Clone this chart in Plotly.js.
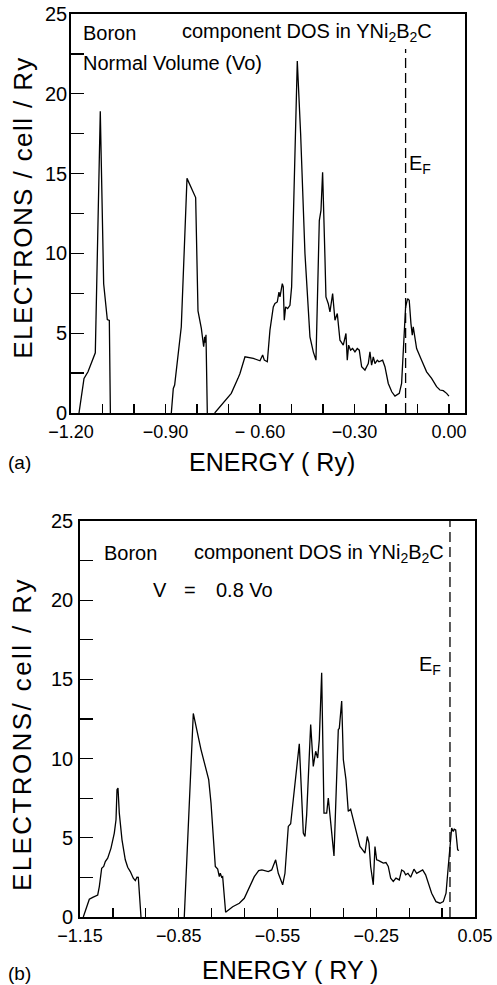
<!DOCTYPE html>
<html>
<head>
<meta charset="utf-8">
<script src="https://cdn.plot.ly/plotly-3.0.1.min.js"></script>
<style>
html,body{margin:0;padding:0;background:#fff;}
#chart{width:497px;height:985px;}
#chart g.annotation[data-index="4"] text{letter-spacing:1.4px;}
#chart g.annotation[data-index="13"] text{letter-spacing:2.4px;}
</style>
</head>
<body>
<div id="chart"></div>
<script>
// ---------- Panel (a): Normal volume ----------
const energy_a = [
  -1.1746,-1.1587,-1.146,-1.1228,-1.107,-1.0963,-1.0847,-1.0783,-1.075,null,
  -0.8815,-0.8752,-0.8709,-0.8498,-0.8317,-0.8233,-0.8074,-0.8042,-0.7968,-0.7862,-0.7788,-0.7756,-0.7735,-0.7714,-0.7672,null,
  -0.7438,-0.7228,-0.6911,-0.6698,-0.6635,-0.6476,-0.6212,-0.6000,-0.5915,-0.5862,-0.5767,-0.5683,-0.5577,-0.5524,-0.5450,
  -0.5397,-0.5365,-0.5291,-0.5260,-0.5228,-0.5185,-0.5122,-0.5048,-0.4995,-0.4815,-0.4709,-0.4571,-0.4413,-0.4307,-0.4222,
  -0.4116,-0.4063,-0.4011,-0.3937,-0.3905,-0.3831,-0.3778,-0.3693,-0.3619,-0.3545,-0.3460,-0.3355,-0.3270,-0.3228,-0.3185,
  -0.3122,-0.3058,-0.2984,-0.2911,-0.2847,-0.2772,-0.2667,-0.2561,-0.2508,-0.2455,-0.2402,-0.2349,-0.2275,-0.2222,-0.2106,
  -0.2032,-0.1926,-0.1815,-0.1714,-0.1577,-0.1503,-0.1429,-0.1376,-0.1312,-0.1261,-0.1206,-0.1164,-0.1133,-0.1079,-0.1026,
  -0.0868,-0.0709,-0.0550,-0.0392,-0.0286,-0.0180,-0.0074,0.0
];
const dos_a = [
  0,2.17,2.58,3.77,18.9,8.1,5.85,5.8,0,null,
  0,1.54,1.75,5.4,14.7,14.35,13.6,13.5,6.4,5.3,4.15,4.77,4.4,4.9,0,null,
  0,0.5,1.23,2.17,2.48,3.52,3.42,3.27,3.63,3.31,3.21,5.19,6.65,6.86,6.96,
  7.58,7.27,8.1,7.9,5.81,6.65,6.54,6.75,7.9,22.06,17.5,9.98,4.77,3.83,3.31,
  12.06,12.69,15.08,9.77,7.27,6.85,6.33,7.48,5.81,6.23,4.56,4.25,4.98,3.31,4.25,
  3.94,4.04,3.83,4.04,3.94,2.9,2.69,3.1,3.83,3.0,3.52,3.1,3.31,3.21,3.31,
  2.9,1.85,1.33,1.06,1.23,1.85,4.56,6.65,7.17,7.06,5.6,4.88,5.4,4.77,4.04,
  3.31,2.58,2.17,1.65,1.44,1.4,1.23,1.06
];
const fermi_a = -0.1376;
const fermiTop_a = 22.8;

// ---------- Panel (b): V = 0.8 Vo ----------
const energy_b = [
  -1.1400,-1.1217,-1.1114,-1.0962,-1.0913,-1.0841,-1.0780,-1.0731,-1.0659,-1.0558,-1.0458,-1.0406,-1.0376,-1.0346,-1.0306,
  -1.0224,-1.0124,-1.0051,-0.9972,-0.9881,-0.9820,-0.9769,-0.9729,-0.9647,null,
  -0.8332,-0.8058,-0.7824,-0.7590,-0.7520,-0.7389,-0.7317,-0.7268,-0.7238,-0.7196,-0.7166,-0.7076,-0.6862,-0.6660,-0.6509,
  -0.6357,-0.6205,-0.6072,-0.5972,-0.5780,-0.5677,-0.5556,-0.5476,-0.5343,-0.5273,-0.5172,-0.5100,-0.4838,-0.4716,-0.4665,
  -0.4614,-0.4492,-0.4413,-0.4340,-0.4279,-0.4230,-0.4158,-0.4088,-0.4006,-0.3957,-0.3885,-0.3784,-0.3653,-0.3623,-0.3550,
  -0.3500,-0.3420,-0.3350,-0.3278,-0.3198,-0.3096,-0.2995,-0.2914,-0.2843,-0.2773,-0.2721,-0.2670,-0.2590,-0.2539,-0.2488,
  -0.2437,-0.2366,-0.2286,-0.2205,-0.2135,-0.2062,-0.1983,-0.1901,-0.1800,-0.1728,-0.1658,-0.1607,-0.1536,-0.1455,-0.1354,
  -0.1272,-0.1193,-0.1090,-0.1000,-0.0919,-0.0817,-0.0686,-0.0564,-0.0463,-0.0380,-0.0312,-0.0209,-0.0160,-0.0130,-0.0087,
  -0.0027,0.0013
];
const dos_b = [
  0,1.12,1.24,1.39,1.92,3.08,3.19,3.5,3.71,4.35,5.3,6.14,8.04,8.14,6.56,
  4.87,3.61,3.14,2.87,2.45,2.3,2.51,2.5,0,null,
  0,12.85,10.57,8.67,7.2,3.19,3.02,2.55,2.76,2.51,2.55,0.3,0.65,0.87,1.18,
  1.82,2.55,2.93,2.97,2.87,2.97,3.61,2.76,2.03,2.76,5.72,5.89,10.93,5.3,5.08,
  6.46,12.15,9.51,10.46,10.04,11.2,15.42,6.56,6.56,7.51,6.14,3.86,11.84,11.9,13.63,
  9.94,8.67,6.67,6.81,6.14,5.3,4.45,4.24,4.03,5.08,4.66,3.19,2.03,4.45,3.61,
  3.57,3.5,3.4,3.44,3.19,2.45,2.24,2.45,2.34,2.97,2.87,2.66,2.76,2.51,3.02,
  2.76,2.87,2.97,2.66,2.13,1.5,0.97,0.87,0.97,1.5,3.19,5.61,5.4,5.55,5.5,
  4.24,4.2
];
const fermi_b = -0.026;
const fermiTop_b = 25;

// ---------- Ticks ----------
const xTickVals_a = [-1.2,-1.1,-1.0,-0.9,-0.8,-0.7,-0.6,-0.5,-0.4,-0.3,-0.2,-0.1,0.0];
const xTickText_a = ['\u22121.20','','','\u22120.90','','','\u2212 0.60','','','\u22120.30','','','0.00'];
const xTickVals_b = [-1.15,-1.05,-0.95,-0.85,-0.75,-0.65,-0.55,-0.45,-0.35,-0.25,-0.15,-0.05,0.05];
const xTickText_b = ['\u22121.15','','','\u22120.85','','','\u22120.55','','','\u22120.25','','','0.05'];
const yTickVals = [0,2.5,5,7.5,10,12.5,15,17.5,20,22.5,25];
const yTickText = ['0','','5','','10','','15','','20','','25'];

const W = 497, H = 985;
const px = v => v / W;
const py = v => 1 - v / H;
const FONT = 'Liberation Sans, Arial, sans-serif';

const lineStyle = {color:'#000', width:1.3};
const dashStyle = {color:'#000', width:1.3, dash:'10px,5px'};

const traces = [
  {x: energy_a, y: dos_a, xaxis:'x', yaxis:'y', mode:'lines', line: lineStyle, connectgaps:false, hoverinfo:'skip'},
  {x: [fermi_a, fermi_a], y: [0, fermiTop_a], xaxis:'x', yaxis:'y', mode:'lines', line: dashStyle, hoverinfo:'skip'},
  {x: energy_b, y: dos_b, xaxis:'x2', yaxis:'y2', mode:'lines', line: lineStyle, connectgaps:false, hoverinfo:'skip'},
  {x: [fermi_b, fermi_b], y: [0, fermiTop_b], xaxis:'x2', yaxis:'y2', mode:'lines', line: dashStyle, hoverinfo:'skip'}
];

const axBase = {
  showline:true, mirror:true, linecolor:'#000', linewidth:1.8,
  showgrid:false, zeroline:false, ticks:'inside', tickcolor:'#000', tickwidth:1.3,
  tickmode:'array', fixedrange:true
};

function ann(text, x, y, opts) {
  return Object.assign({
    text, x: px(x), y: py(y), xref:'paper', yref:'paper',
    showarrow:false, xanchor:'left', yanchor:'middle',
    font:{family:FONT, size:20, color:'#000'}
  }, opts || {});
}

const annotations = [
  ann('Boron', 81, 33),
  ann('component DOS in YNi<sub>2</sub>B<sub>2</sub>C', 180, 33),
  ann('Normal Volume (Vo)', 81, 63),
  ann('E<sub>F</sub>', 407, 164),
  ann('ELECTRONS / cell / Ry', 23, 208, {xanchor:'center', textangle:-90, font:{family:FONT, size:26, color:'#000'}}),
  ann('(a)', 6, 462, {font:{family:FONT, size:19, color:'#000'}}),
  ann('ENERGY ( Ry)', 272, 462, {xanchor:'center', font:{family:FONT, size:25, color:'#000'}}),

  ann('Boron', 102, 553),
  ann('component DOS in YNi<sub>2</sub>B<sub>2</sub>C', 192, 553),
  ann('V', 151, 590),
  ann('=', 182, 590),
  ann('0.8\u00a0Vo', 214, 590),
  ann('E<sub>F</sub>', 417, 665),
  ann('ELECTRONS/ cell / Ry', 22, 734, {xanchor:'center', textangle:-90, font:{family:FONT, size:26, color:'#000'}}),
  ann('(b)', 6, 973, {font:{family:FONT, size:19, color:'#000'}}),
  ann('ENERGY ( RY )', 290, 970, {xanchor:'center', font:{family:FONT, size:25, color:'#000'}})
];

const layout = {
  width: W, height: H, autosize:false,
  margin:{l:0, r:0, t:0, b:0, pad:0},
  paper_bgcolor:'#fff', plot_bgcolor:'#fff',
  showlegend:false,
  font:{family:FONT, color:'#000'},
  xaxis: Object.assign({}, axBase, {
    domain:[px(71), px(465)], anchor:'y', range:[-1.2, 0.051],
    tickvals:xTickVals_a, ticktext:xTickText_a, ticklen:9, ticklabelstandoff:2,
    tickfont:{family:FONT, size:18, color:'#000'}
  }),
  yaxis: Object.assign({}, axBase, {
    domain:[py(413), py(14)], anchor:'x', range:[0, 25],
    tickvals:yTickVals, ticktext:yTickText, ticklen:13, ticklabelstandoff:-2,
    tickfont:{family:FONT, size:20, color:'#000'}
  }),
  xaxis2: Object.assign({}, axBase, {
    domain:[px(80), px(475)], anchor:'y2', range:[-1.15, 0.05],
    tickvals:xTickVals_b, ticktext:xTickText_b, ticklen:9, ticklabelstandoff:2,
    tickfont:{family:FONT, size:18, color:'#000'}
  }),
  yaxis2: Object.assign({}, axBase, {
    domain:[py(917), py(521)], anchor:'x2', range:[0, 25],
    tickvals:yTickVals, ticktext:yTickText, ticklen:13, ticklabelstandoff:1,
    tickfont:{family:FONT, size:20, color:'#000'}
  }),
  annotations
};

Plotly.newPlot('chart', traces, layout, {staticPlot:true, displayModeBar:false});
</script>
</body>
</html>
